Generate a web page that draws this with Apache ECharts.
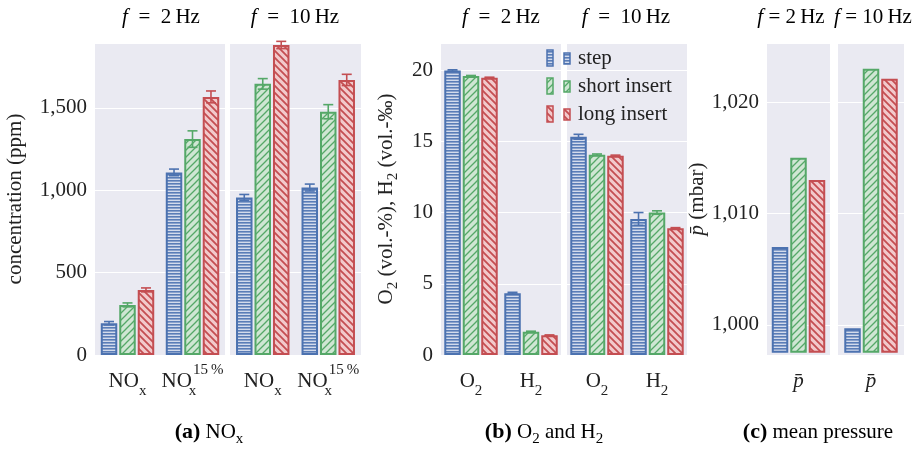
<!DOCTYPE html>
<html><head><meta charset="utf-8">
<script src="https://cdn.jsdelivr.net/npm/echarts@6/dist/echarts.min.js"></script>
<style>html,body{margin:0;padding:0;background:#fff}#c{width:920px;height:449px}</style>
</head><body><div id="c"></div>
<script>
// ---------- data ----------
const catsA = ['NOx', 'NOx15%'];
const catsB = ['O2', 'H2'];
const catsC = ['pbar'];
const seriesNames = ['step', 'short insert', 'long insert'];
const freqTitles = ['2', '10'];

// (a) NOx concentration (ppm)
const nox2Step = [193, 1108], nox2Short = [304, 1310], nox2Long = [395, 1566];
const nox2StepErr = [10, 20], nox2ShortErr = [12, 50], nox2LongErr = [12, 36];
const nox10Step = [956, 1016], nox10Short = [1645, 1476], nox10Long = [1881, 1669];
const nox10StepErr = [18, 21], nox10ShortErr = [32, 43], nox10LongErr = [22, 34];

// (b) O2 (vol.-%) and H2 (vol.-permille)
const gas2Step = [19.97, 4.34], gas2Short = [19.58, 1.64], gas2Long = [19.46, 1.38];
const gas2StepErr = [0.05, 0.06], gas2ShortErr = [0.04, 0.03], gas2LongErr = [0.04, 0.03];
const gas10Step = [15.32, 9.55], gas10Short = [14.06, 10.0], gas10Long = [13.99, 8.90];
const gas10StepErr = [0.17, 0.45], gas10ShortErr = [0.05, 0.12], gas10LongErr = [0.04, 0.04];

// (c) mean pressure (mbar)
const p2Step = [1007.0], p2Short = [1015.0], p2Long = [1013.0];
const p10Step = [999.7], p10Short = [1023.0], p10Long = [1022.1];

// ---------- style ----------
const FONT = 'Liberation Serif';
const TXT = '#222';
const COLORS = ['#4c72b0', '#55a868', '#c44e52'];
const BW = 16.5, GAPF = 0.12;

function hatch(kind) {
  const c = document.createElement('canvas');
  const ctx = c.getContext('2d');
  if (kind === 'h') {
    c.width = 4; c.height = 3;
    ctx.fillStyle = '#d3dbec'; ctx.fillRect(0, 0, 4, 3);
    ctx.fillStyle = '#5a7db7'; ctx.fillRect(0, 0, 4, 1.6);
  } else {
    const s = 7; c.width = s; c.height = s;
    ctx.fillStyle = kind === 'f' ? '#cfe6d3' : '#f2c9cb';
    ctx.fillRect(0, 0, s, s);
    ctx.strokeStyle = kind === 'f' ? '#55a868' : '#c44e52';
    ctx.lineWidth = kind === 'f' ? 1.3 : 1.8;
    ctx.beginPath();
    if (kind === 'f') {
      ctx.moveTo(-1, s + 1); ctx.lineTo(s + 1, -1);
      ctx.moveTo(-1, 1); ctx.lineTo(1, -1);
      ctx.moveTo(s - 1, s + 1); ctx.lineTo(s + 1, s - 1);
    } else {
      ctx.moveTo(-1, -1); ctx.lineTo(s + 1, s + 1);
      ctx.moveTo(s - 1, -1); ctx.lineTo(s + 1, 1);
      ctx.moveTo(-1, s - 1); ctx.lineTo(1, s + 1);
    }
    ctx.stroke();
  }
  return { image: c, repeat: 'repeat' };
}
const PATTERNS = [hatch('h'), hatch('f'), hatch('b')];

const grids = [
  { left: 95, width: 130 }, { left: 230, width: 131 },
  { left: 441, width: 120 }, { left: 567, width: 120 },
  { left: 767, width: 63 }, { left: 838, width: 66 }
].map(g => ({ left: g.left, width: g.width, top: 43, height: 312, show: true,
  backgroundColor: '#eaeaf2', borderWidth: 0, containLabel: false, outerBoundsMode: 'none' }));

const subRich = {
  m: { fontFamily: FONT, fontSize: 21, lineHeight: 36, color: TXT },
  s: { fontFamily: FONT, fontSize: 15, lineHeight: 9, verticalAlign: 'bottom', color: TXT },
  s2: { fontFamily: FONT, fontSize: 15, lineHeight: 9, verticalAlign: 'bottom', width: 1, color: TXT },
  p: { fontFamily: FONT, fontSize: 15, lineHeight: 20, verticalAlign: 'top', color: TXT },
  i: { fontFamily: FONT, fontSize: 21, lineHeight: 36, fontStyle: 'italic', color: TXT },
  b: { fontFamily: FONT, fontSize: 22, lineHeight: 36, fontWeight: 'bold', color: TXT }
};

function catLabel(v) {
  if (v === 'NOx') return '{m|NO}{s|x}';
  if (v === 'NOx15%') return '{m|NO}{s2|x}{p|15\u2009%}';
  if (v === 'O2') return '{m|O}{s|2}';
  if (v === 'H2') return '{m|H}{s|2}';
  if (v === 'pbar') return '{i|p\u0304}';
  return v;
}

function xAxis(gi, cats) {
  return { type: 'category', gridIndex: gi, data: cats,
    axisLine: { show: false }, axisTick: { show: false }, splitLine: { show: false },
    axisLabel: { interval: 0, hideOverlap: false, margin: 8, formatter: catLabel, rich: subRich,
      fontFamily: FONT, fontSize: 21, color: TXT } };
}
function yAxis(gi, rng, showLabels, name, nameGap) {
  const ax = { type: 'value', gridIndex: gi, min: rng.min, max: rng.max,
    axisLine: { show: false }, axisTick: { show: false },
    splitLine: { show: true, lineStyle: { color: '#ffffff', width: 1.2 } },
    axisLabel: { show: showLabels, margin: 8, fontFamily: FONT, fontSize: 21, color: TXT,
      showMinLabel: rng.showMin !== false, showMaxLabel: false } };
  if (rng.interval) ax.interval = rng.interval;
  if (rng.splitNumber) ax.splitNumber = rng.splitNumber;
  if (rng.startValue != null) ax.startValue = rng.startValue;
  if (name) {
    ax.name = name; ax.nameLocation = 'middle'; ax.nameRotate = 90; ax.nameGap = nameGap;
    ax.nameTextStyle = { fontFamily: FONT, fontSize: 21, color: TXT, rich: {
      m: { fontFamily: FONT, fontSize: 21, lineHeight: 30, color: TXT },
      s: { fontFamily: FONT, fontSize: 15, lineHeight: 8, verticalAlign: 'bottom', color: TXT },
      i: { fontFamily: FONT, fontSize: 21, lineHeight: 30, fontStyle: 'italic', color: TXT } } };
  }
  return ax;
}

const rngA = { min: 0, max: 1893, interval: 500 };
const rngB = { min: 0, max: 21.9, interval: 5 };
const rngC = { min: 997.3, max: 1025.3, splitNumber: 3, showMin: false, startValue: 997.5 };

function bars(gi, arrs, clip) {
  return arrs.map((d, k) => ({ type: 'bar', name: seriesNames[k], xAxisIndex: gi, yAxisIndex: gi,
    data: d, barWidth: BW, barGap: (GAPF * 100) + '%', clip: clip, silent: true,
    itemStyle: { color: PATTERNS[k], borderColor: COLORS[k], borderWidth: 2 } }));
}
function errs(gi, arrs, errArrs) {
  return arrs.map((d, k) => ({ type: 'custom', xAxisIndex: gi, yAxisIndex: gi, z: 5, silent: true,
    data: d.map((v, i) => [i, v, errArrs[k][i]]),
    renderItem: function (params, api) {
      const i = api.value(0), v = api.value(1), e = api.value(2);
      const t = api.coord([i, v + e]), b = api.coord([i, v - e]);
      const x = t[0] + (k - 1) * BW * (1 + GAPF);
      const st = { stroke: COLORS[k], lineWidth: 1.6 };
      return { type: 'group', children: [
        { type: 'line', shape: { x1: x, y1: t[1], x2: x, y2: b[1] }, style: st },
        { type: 'line', shape: { x1: x - 5, y1: t[1], x2: x + 5, y2: t[1] }, style: st },
        { type: 'line', shape: { x1: x - 5, y1: b[1], x2: x + 5, y2: b[1] }, style: st }
      ] };
    } }));
}

const series = [].concat(
  bars(0, [nox2Step, nox2Short, nox2Long], false), errs(0, [nox2Step, nox2Short, nox2Long], [nox2StepErr, nox2ShortErr, nox2LongErr]),
  bars(1, [nox10Step, nox10Short, nox10Long], false), errs(1, [nox10Step, nox10Short, nox10Long], [nox10StepErr, nox10ShortErr, nox10LongErr]),
  bars(2, [gas2Step, gas2Short, gas2Long], false), errs(2, [gas2Step, gas2Short, gas2Long], [gas2StepErr, gas2ShortErr, gas2LongErr]),
  bars(3, [gas10Step, gas10Short, gas10Long], false), errs(3, [gas10Step, gas10Short, gas10Long], [gas10StepErr, gas10ShortErr, gas10LongErr]),
  bars(4, [p2Step, p2Short, p2Long], true),
  bars(5, [p10Step, p10Short, p10Long], true)
);

// ---------- text elements ----------
const titleRich = {
  i: { fontFamily: FONT, fontSize: 21, fontStyle: 'italic', color: TXT },
  n: { fontFamily: FONT, fontSize: 21, color: TXT }
};
function titleText(x, f, tight) {
  const sp = tight ? ' ' : '  ';
  return { type: 'text', x: x, y: 17, silent: true,
    style: { text: '{i|f}{n|' + sp + '=' + sp + f + '\u2009Hz}', rich: titleRich, align: 'center', verticalAlign: 'middle' } };
}
const capRich = {
  b: { fontFamily: FONT, fontSize: 22, fontWeight: 'bold', lineHeight: 30, color: TXT },
  m: { fontFamily: FONT, fontSize: 21, lineHeight: 30, color: TXT },
  s: { fontFamily: FONT, fontSize: 15, lineHeight: 8, verticalAlign: 'bottom', color: TXT }
};
function capText(x, txt) {
  return { type: 'text', x: x, y: 432, silent: true,
    style: { text: txt, rich: capRich, align: 'center', verticalAlign: 'middle' } };
}
const legendEls = [];
seriesNames.forEach((nm, k) => {
  const cy = 58 + k * 28;
  legendEls.push({ type: 'rect', shape: { x: 547, y: cy - 8, width: 6, height: 16 },
    style: { fill: PATTERNS[k], stroke: COLORS[k], lineWidth: 1.5 }, silent: true, z: 10 });
  legendEls.push({ type: 'rect', shape: { x: 564, y: cy - 5, width: 6, height: 11 },
    style: { fill: PATTERNS[k], stroke: COLORS[k], lineWidth: 1.5 }, silent: true, z: 10 });
  legendEls.push({ type: 'text', x: 578, y: cy, silent: true, z: 10,
    style: { text: nm, fontFamily: FONT, fontSize: 21, fill: TXT, align: 'left', verticalAlign: 'middle' } });
});

const graphic = [
  titleText(161, freqTitles[0]), titleText(295, freqTitles[1]),
  titleText(501, freqTitles[0]), titleText(626, freqTitles[1]),
  titleText(791, freqTitles[0], true), titleText(873, freqTitles[1], true),
  capText(209, '{b|(a)}{m| NO}{s|x}'),
  capText(544, '{b|(b)}{m| O}{s|2}{m| and H}{s|2}'),
  capText(818, '{b|(c)}{m| mean pressure}')
].concat(legendEls);

const option = {
  animation: false,
  backgroundColor: '#ffffff',
  grid: grids,
  xAxis: [xAxis(0, catsA), xAxis(1, catsA), xAxis(2, catsB), xAxis(3, catsB), xAxis(4, catsC), xAxis(5, catsC)],
  yAxis: [
    yAxis(0, rngA, true, 'concentration (ppm)', 69),
    yAxis(1, rngA, false),
    yAxis(2, rngB, true, '{m|O}{s|2}{m| (vol.-%), H}{s|2}{m| (vol.-\u2030)}', 40),
    yAxis(3, rngB, false),
    yAxis(4, rngC, true, '{i|p\u0304}{m| (mbar)}', 55),
    yAxis(5, rngC, false)
  ],
  series: series,
  graphic: graphic
};
const chart = echarts.init(document.getElementById('c'), null, { renderer: 'canvas' });
chart.setOption(option);
</script></body></html>
